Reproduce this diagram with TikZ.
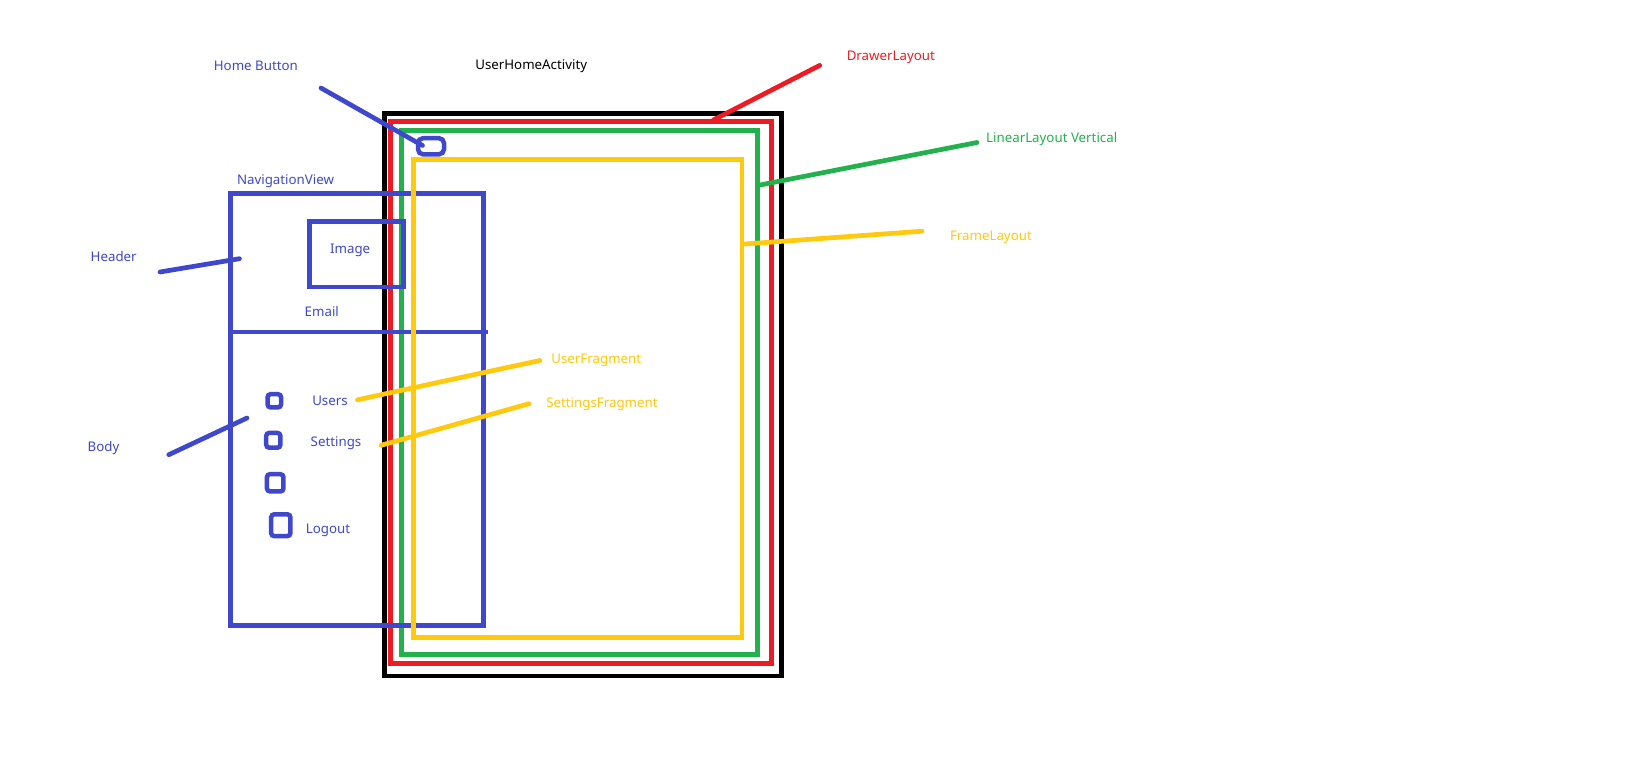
\documentclass[tikz,border=0pt]{standalone}
\usepackage{fontspec}
\setmainfont{Noto Sans}
\definecolor{pblue}{HTML}{3F48CC}
\definecolor{pred}{HTML}{ED1C24}
\definecolor{pgreen}{HTML}{22B14C}
\definecolor{pyellow}{HTML}{FFC90E}
\begin{document}
\begin{tikzpicture}[x=1pt,y=-1pt,
  box/.style={draw, line width=4.7pt, inner sep=0pt, outer sep=0pt},
  itembox/.style={draw=pblue, line width=4.5pt, inner sep=0pt, outer sep=0pt, rounded corners=3pt},
  ptr/.style={line width=4.7pt, line cap=round},
  lbl/.style={inner sep=0pt, yshift=-1.8pt, font=\fontsize{13.3}{16}\selectfont},
]
\useasboundingbox[fill=white] (0,0) rectangle (1629,776);

% layout boxes
\node[box, draw=black, minimum width=397.1pt, minimum height=562.5pt] (activity) at (582.95,394.75) {};
\node[box, draw=pred, minimum width=381pt, minimum height=542pt] (drawer) at (580.8,392.3) {};
\node[box, draw=pgreen, minimum width=356.2pt, minimum height=524pt] (linear) at (579.4,392.3) {};
\node[box, draw=pblue, minimum width=252.5pt, minimum height=431.5pt] (nav) at (357.05,409.55) {};
\node[box, draw=pblue, minimum width=94pt, minimum height=65.5pt] (image) at (356.5,254.25) {};
\coordinate (divL) at (230.8,332);
\coordinate (divR) at (488,332);
\draw[pblue, line width=4.7pt] (divL) -- (divR);
\node[box, draw=pyellow, minimum width=328.7pt, minimum height=477.8pt] (frame) at (577.65,398.4) {};
\node[itembox, minimum width=26pt, minimum height=16.1pt, rounded corners=5pt] (homebtn) at (431,146.25) {};

% menu items
\node[itembox, minimum width=13.5pt, minimum height=13.2pt] (item1) at (274.3,400.8) {};
\node[itembox, minimum width=14.2pt, minimum height=14.8pt] (item2) at (273.3,440.3) {};
\node[itembox, minimum width=16.5pt, minimum height=17.2pt] (item3) at (275.2,482.8) {};
\node[itembox, minimum width=19.2pt, minimum height=21.8pt] (item4) at (280.8,525.2) {};

% labels
\node[lbl, text=pblue] (lHome) at (255.9,64.3) {Home Button};
\node[lbl, text=black] (lAct) at (531.2,64.8) {UserHomeActivity};
\node[lbl, text=pblue] (lNav) at (285.5,179.6) {NavigationView};
\node[lbl, text=pblue] (lImage) at (350.2,249) {Image};
\node[lbl, text=pblue] (lEmail) at (321.8,309.3) {Email};
\node[lbl, text=pblue] (lHeader) at (113.7,254.3) {Header};
\node[lbl, text=pblue] (lBody) at (103.5,446.7) {Body};
\node[lbl, text=pblue] (lUsers) at (330,399.3) {Users};
\node[lbl, text=pblue] (lSettings) at (336,441.6) {Settings};
\node[lbl, text=pblue] (lLogout) at (328,528.7) {Logout};
\node[lbl, text=pyellow] (lUF) at (596.3,358.6) {UserFragment};
\node[lbl, text=pyellow] (lSF) at (602,402.7) {SettingsFragment};
\node[lbl, text=pred] (lDrawer) at (890.8,55.8) {DrawerLayout};
\node[lbl, text=pgreen] (lLinear) at (1051.7,137.6) {LinearLayout Vertical};
\node[lbl, text=pyellow] (lFrame) at (990.9,235.3) {FrameLayout};

% pointer lines
\coordinate (pHomeA) at (321,88);
\coordinate (pHomeB) at (422.5,145.5);
\coordinate (pHeadA) at (160,272);
\coordinate (pHeadB) at (239.5,258.7);
\coordinate (pBodyA) at (168.8,454.7);
\coordinate (pBodyB) at (247,418);
\coordinate (pUsersA) at (357.5,399.8);
\coordinate (pUsersB) at (539.8,360.5);
\coordinate (pSetA) at (381,445.3);
\coordinate (pSetB) at (529,403.7);
\coordinate (pDrawA) at (713.3,120);
\coordinate (pDrawB) at (819.7,65.4);
\coordinate (pLinA) at (760,185);
\coordinate (pLinB) at (977,142.5);
\coordinate (pFrA) at (745,244);
\coordinate (pFrB) at (922,231.2);

\draw[ptr, pblue] (pHomeA) -- (pHomeB);
\draw[ptr, pblue] (pHeadA) -- (pHeadB);
\draw[ptr, pblue] (pBodyA) -- (pBodyB);
\draw[ptr, pyellow] (pUsersA) -- (pUsersB);
\draw[ptr, pyellow] (pSetA) -- (pSetB);
\draw[ptr, pred] (pDrawA) -- (pDrawB);
\draw[ptr, pgreen] (pLinA) -- (pLinB);
\draw[ptr, pyellow] (pFrA) -- (pFrB);
\end{tikzpicture}
\end{document}
